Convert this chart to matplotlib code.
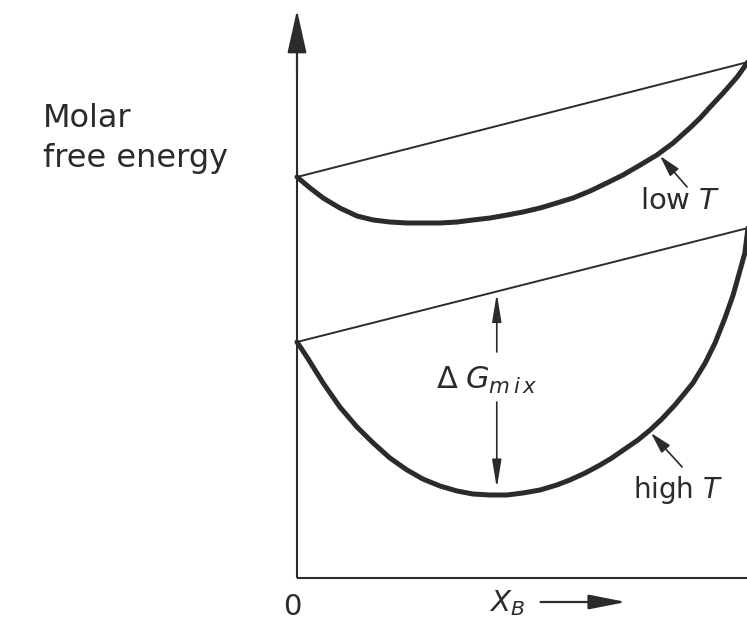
import matplotlib
matplotlib.use('Agg')
import matplotlib.pyplot as plt

plt.rcParams['font.family'] = ['DejaVu Sans']
plt.rcParams['mathtext.fontset'] = 'dejavusans'

ink = '#2b2b2b'

# composition X_B and molar free energy (arbitrary units)
low_x = [0.000, 0.029, 0.058, 0.095, 0.133, 0.169, 0.206, 0.244, 0.279,
         0.317, 0.355, 0.390, 0.428, 0.466, 0.501, 0.539, 0.576, 0.612,
         0.650, 0.687, 0.723, 0.761, 0.798, 0.834, 0.871, 0.894, 0.916,
         0.945, 0.976, 0.998, 1.000]
low_g = [4.01, 3.90, 3.80, 3.70, 3.62, 3.58, 3.56, 3.55, 3.55,
         3.55, 3.56, 3.58, 3.60, 3.63, 3.66, 3.70, 3.75, 3.80,
         3.87, 3.95, 4.03, 4.13, 4.23, 4.35, 4.50, 4.60, 4.71,
         4.85, 5.01, 5.15, 5.16]
high_x = [0.000, 0.022, 0.040, 0.058, 0.095, 0.133, 0.169, 0.206, 0.244,
          0.279, 0.317, 0.355, 0.390, 0.428, 0.466, 0.501, 0.539, 0.576,
          0.605, 0.639, 0.672, 0.698, 0.727, 0.756, 0.783, 0.809, 0.838,
          0.860, 0.878, 0.905, 0.927, 0.949, 0.967, 0.982, 0.993, 1.000]
high_g = [2.36, 2.21, 2.08, 1.95, 1.71, 1.51, 1.35, 1.20, 1.08,
          0.99, 0.92, 0.87, 0.84, 0.83, 0.83, 0.85, 0.88, 0.93,
          0.98, 1.05, 1.13, 1.20, 1.29, 1.38, 1.48, 1.59, 1.73,
          1.85, 1.95, 2.15, 2.35, 2.60, 2.83, 3.07, 3.25, 3.50]

# free energies of the pure components at each temperature
pure_x = [0.0, 1.0]
low_pure = [4.01, 5.16]
high_pure = [2.36, 3.50]

# where the mixing energy is marked
mix_x = 0.443

fig = plt.figure(figsize=(7.47, 6.22), dpi=100)
ax = fig.add_axes([0, 0, 1, 1])
ax.set_xlim(-0.6585, 0.9978)
ax.set_ylim(-0.44, 5.78)
ax.axis('off')


def arrow(tail, tip, hl, hw, lw):
    ax.annotate('', xy=tip, xytext=tail,
                arrowprops=dict(arrowstyle=f'-|>,head_length={hl},head_width={hw}',
                                color=ink, lw=lw, mutation_scale=10,
                                shrinkA=0, shrinkB=0))


# axes
ax.plot([0, 0], [0, 5.3], color=ink, lw=1.5, solid_capstyle='butt')
ax.plot([0, 1.0], [0, 0], color=ink, lw=1.5, solid_capstyle='butt')
arrow((0, 5.0), (0, 5.68), 2.7, 0.6, 1.5)

# straight lines joining the pure components
ax.plot(pure_x, low_pure, color=ink, lw=1.4)
ax.plot(pure_x, high_pure, color=ink, lw=1.4)

# free energy curves of the solution
ax.plot(low_x, low_g, color=ink, lw=3.6, solid_capstyle='round',
        solid_joinstyle='round')
ax.plot(high_x, high_g, color=ink, lw=3.6, solid_capstyle='round',
        solid_joinstyle='round')

# delta G mix between line and curve
line_at_mix = high_pure[0] + (high_pure[1] - high_pure[0]) * mix_x
arrow((mix_x, 2.26), (mix_x, line_at_mix - 0.02), 1.7, 0.28, 1.2)
arrow((mix_x, 1.76), (mix_x, 0.90), 1.7, 0.28, 1.2)
ax.text(mix_x - 0.022, 1.98, r'$\Delta\;G_{m\,i\,x}$', fontsize=22, color=ink,
        ha='center', va='center')

# curve labels
arrow((0.865, 3.91), (0.805, 4.22), 1.3, 0.35, 1.2)
ax.text(0.849, 3.77, 'low $T$', fontsize=21, color=ink,
        ha='center', va='center')
arrow((0.854, 1.11), (0.785, 1.45), 1.3, 0.35, 1.2)
ax.text(0.845, 0.88, 'high $T$', fontsize=20, color=ink,
        ha='center', va='center')

# axis labels
ax.text(-0.563, 4.51, 'Molar', fontsize=23, color=ink,
        ha='left', va='baseline')
ax.text(-0.563, 4.11, 'free energy', fontsize=23, color=ink,
        ha='left', va='baseline')
ax.text(-0.011, -0.29, '0', fontsize=21, color=ink, ha='center', va='center')
ax.text(0.465, -0.25, '$X_B$', fontsize=21, color=ink, ha='center', va='center')
arrow((0.54, -0.24), (0.73, -0.24), 2.3, 0.45, 1.6)

fig.savefig('out.png', dpi=100, facecolor='white')
